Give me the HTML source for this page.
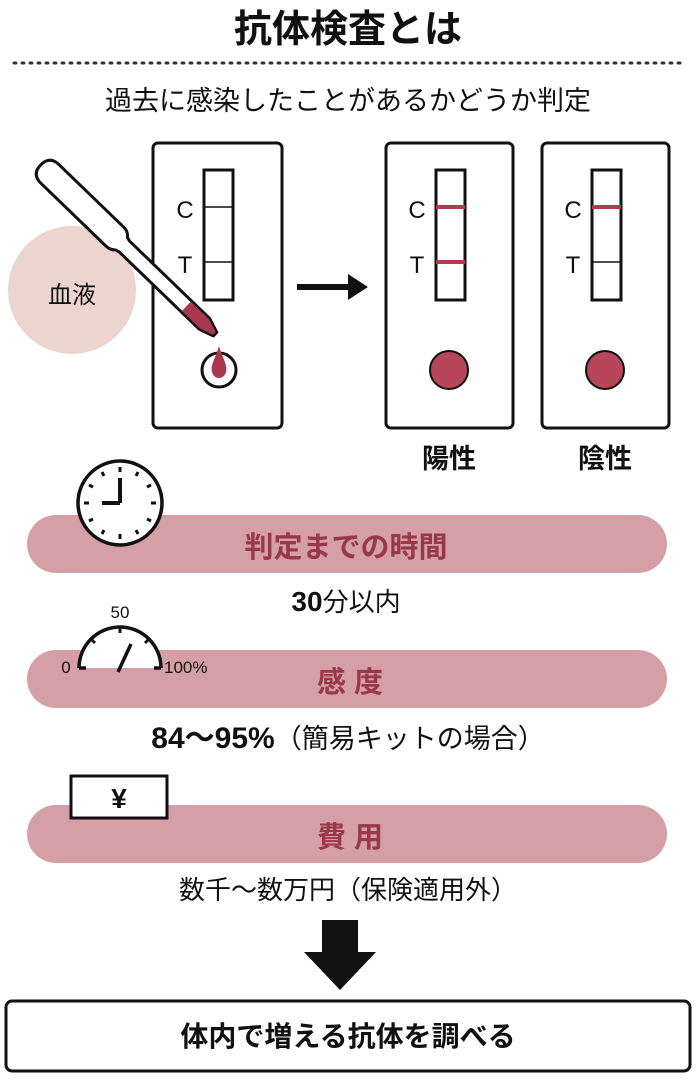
<!DOCTYPE html>
<html><head><meta charset="utf-8"><style>
body{margin:0;background:#fff;}
</style></head><body>
<svg width="696" height="1085" viewBox="0 0 696 1085" xmlns="http://www.w3.org/2000/svg" style="font-family:'Liberation Sans','Noto Sans CJK JP',sans-serif;display:block">
<text x="348" y="42" font-size="38" font-weight="bold" text-anchor="middle" fill="#111">抗体検査とは</text>
<line x1="14" y1="63" x2="684" y2="63" stroke="#333" stroke-width="3" stroke-dasharray="2 6" stroke-linecap="round"/>
<text x="348" y="110" font-size="27" text-anchor="middle" fill="#111">過去に感染したことがあるかどうか判定</text>
<circle cx="72" cy="290" r="64" fill="#ecd4cf"/>
<text x="72" y="303" font-size="24" text-anchor="middle" fill="#111">血液</text>
<!-- left card -->
<rect x="153" y="143" width="129" height="285" rx="5" fill="#fff" stroke="#111" stroke-width="3"/>
<rect x="204" y="170" width="29" height="130" fill="#fff" stroke="#111" stroke-width="3"/>
<line x1="204" y1="207" x2="233" y2="207" stroke="#111" stroke-width="1.5"/>
<line x1="204" y1="262" x2="233" y2="262" stroke="#111" stroke-width="1.5"/>
<text x="185" y="218" font-size="24" text-anchor="middle" fill="#111">C</text>
<text x="185" y="273" font-size="24" text-anchor="middle" fill="#111">T</text>
<!-- pipette -->
<g transform="translate(50,174) rotate(44)">
<path d="M0 -13 L90 -13 Q96 -13 100 -8 L104 -7 L215 -7 L230 -2 L230 3 L215 8 L104 8 L100 9 Q96 13 90 13 L0 13 Q-13 13 -13 0 Q-13 -13 0 -13 Z" fill="#fff" stroke="#111" stroke-width="3" stroke-linejoin="round"/>
<path d="M190 -6 L215 -6 L229 -1.5 L229 2.5 L215 7 L190 7 Z" fill="#a8384e"/>
</g>
<circle cx="219" cy="370" r="17" fill="#fff" stroke="#111" stroke-width="3"/>
<path d="M219 346 C222 357 228 365 226 372 C224 380 214 380 212 372 C210 365 216 357 219 346Z" fill="#a8384e"/>
<!-- arrow -->
<line x1="297" y1="287" x2="352" y2="287" stroke="#111" stroke-width="6"/>
<path d="M348 274 L368 287 L348 300 Z" fill="#111"/>
<!-- pos card -->
<rect x="386" y="143" width="127" height="285" rx="5" fill="#fff" stroke="#111" stroke-width="3"/>
<rect x="436" y="170" width="29" height="130" fill="#fff" stroke="#111" stroke-width="3"/>
<line x1="436" y1="207" x2="465" y2="207" stroke="#b8384e" stroke-width="4"/>
<line x1="436" y1="262" x2="465" y2="262" stroke="#b8384e" stroke-width="4"/>
<text x="417" y="218" font-size="24" text-anchor="middle" fill="#111">C</text>
<text x="417" y="273" font-size="24" text-anchor="middle" fill="#111">T</text>
<circle cx="449" cy="370" r="19" fill="#b8465a" stroke="#111" stroke-width="2"/>
<text x="449" y="468" font-size="27" font-weight="bold" text-anchor="middle" fill="#111">陽性</text>
<!-- neg card -->
<rect x="542" y="143" width="127" height="285" rx="5" fill="#fff" stroke="#111" stroke-width="3"/>
<rect x="592" y="170" width="29" height="130" fill="#fff" stroke="#111" stroke-width="3"/>
<line x1="592" y1="207" x2="621" y2="207" stroke="#b8384e" stroke-width="4"/>
<line x1="592" y1="262" x2="621" y2="262" stroke="#111" stroke-width="1.5"/>
<text x="573" y="218" font-size="24" text-anchor="middle" fill="#111">C</text>
<text x="573" y="273" font-size="24" text-anchor="middle" fill="#111">T</text>
<circle cx="605" cy="370" r="19" fill="#b8465a" stroke="#111" stroke-width="2"/>
<text x="605" y="468" font-size="27" font-weight="bold" text-anchor="middle" fill="#111">陰性</text>
<!-- pills -->
<rect x="27" y="515" width="640" height="58" rx="29" fill="#d4a0a5"/>
<text x="346" y="557" font-size="29" font-weight="bold" text-anchor="middle" fill="#983848">判定までの時間</text>
<text x="346" y="611" font-size="26" text-anchor="middle" fill="#111"><tspan font-weight="bold" font-size="28">30</tspan>分以内</text>
<rect x="27" y="650" width="640" height="58" rx="29" fill="#d4a0a5"/>
<text x="350" y="692" font-size="29" font-weight="bold" text-anchor="middle" fill="#983848">感 度</text>
<text x="348" y="748" font-size="27" text-anchor="middle" fill="#111"><tspan font-weight="bold" font-size="30">84～95%</tspan>（簡易キットの場合）</text>
<rect x="27" y="805" width="640" height="58" rx="29" fill="#d4a0a5"/>
<text x="350" y="847" font-size="29" font-weight="bold" text-anchor="middle" fill="#983848">費 用</text>
<text x="348" y="899" font-size="26" text-anchor="middle" fill="#111">数千～数万円（保険適用外）</text>
<!-- clock -->
<circle cx="120" cy="503" r="42" fill="#fff" stroke="#111" stroke-width="3.5"/>
<g stroke="#111" stroke-width="3">
<line x1="120" y1="467" x2="120" y2="472"/><line x1="120" y1="534" x2="120" y2="539"/>
<line x1="84" y1="503" x2="89" y2="503"/><line x1="151" y1="503" x2="156" y2="503"/>
<line x1="138" y1="472" x2="136" y2="476"/><line x1="102" y1="472" x2="104" y2="476"/>
<line x1="138" y1="534" x2="136" y2="530"/><line x1="102" y1="534" x2="104" y2="530"/>
<line x1="89" y1="485" x2="93" y2="487"/><line x1="151" y1="485" x2="147" y2="487"/>
<line x1="89" y1="521" x2="93" y2="519"/><line x1="151" y1="521" x2="147" y2="519"/>
<line x1="120" y1="503" x2="120" y2="478" stroke-width="4"/><line x1="120" y1="503" x2="102" y2="503" stroke-width="4"/>
</g>
<!-- gauge -->
<path d="M79 668 A41 41 0 0 1 161 668" fill="#fff" stroke="#111" stroke-width="3.5"/>
<path d="M79 668 L86 668 M161 668 L154 668" stroke="#111" stroke-width="3.5"/>
<g stroke="#111" stroke-width="3"><line x1="120" y1="627" x2="120" y2="633"/><line x1="91" y1="639" x2="95" y2="643"/><line x1="149" y1="639" x2="145" y2="643"/></g>
<line x1="118" y1="672" x2="131" y2="644" stroke="#111" stroke-width="3.5"/>
<text x="120" y="618" font-size="17" text-anchor="middle" fill="#111">50</text>
<text x="66" y="673" font-size="17" text-anchor="middle" fill="#111">0</text>
<text x="164" y="673" font-size="17" fill="#111">100%</text>
<!-- yen -->
<rect x="71" y="776" width="96" height="42" fill="#fff" stroke="#111" stroke-width="3"/>
<text x="119" y="808" font-size="28" font-weight="bold" text-anchor="middle" fill="#111">¥</text>
<!-- down arrow -->
<path d="M322 920 L358 920 L358 952 L376 952 L340 990 L304 952 L322 952 Z" fill="#111"/>
<rect x="6" y="1001" width="684" height="70" rx="6" fill="#fff" stroke="#111" stroke-width="3"/>
<text x="348" y="1046" font-size="28" font-weight="bold" text-anchor="middle" fill="#111">体内で増える抗体を調べる</text>
</svg>
</body></html>
